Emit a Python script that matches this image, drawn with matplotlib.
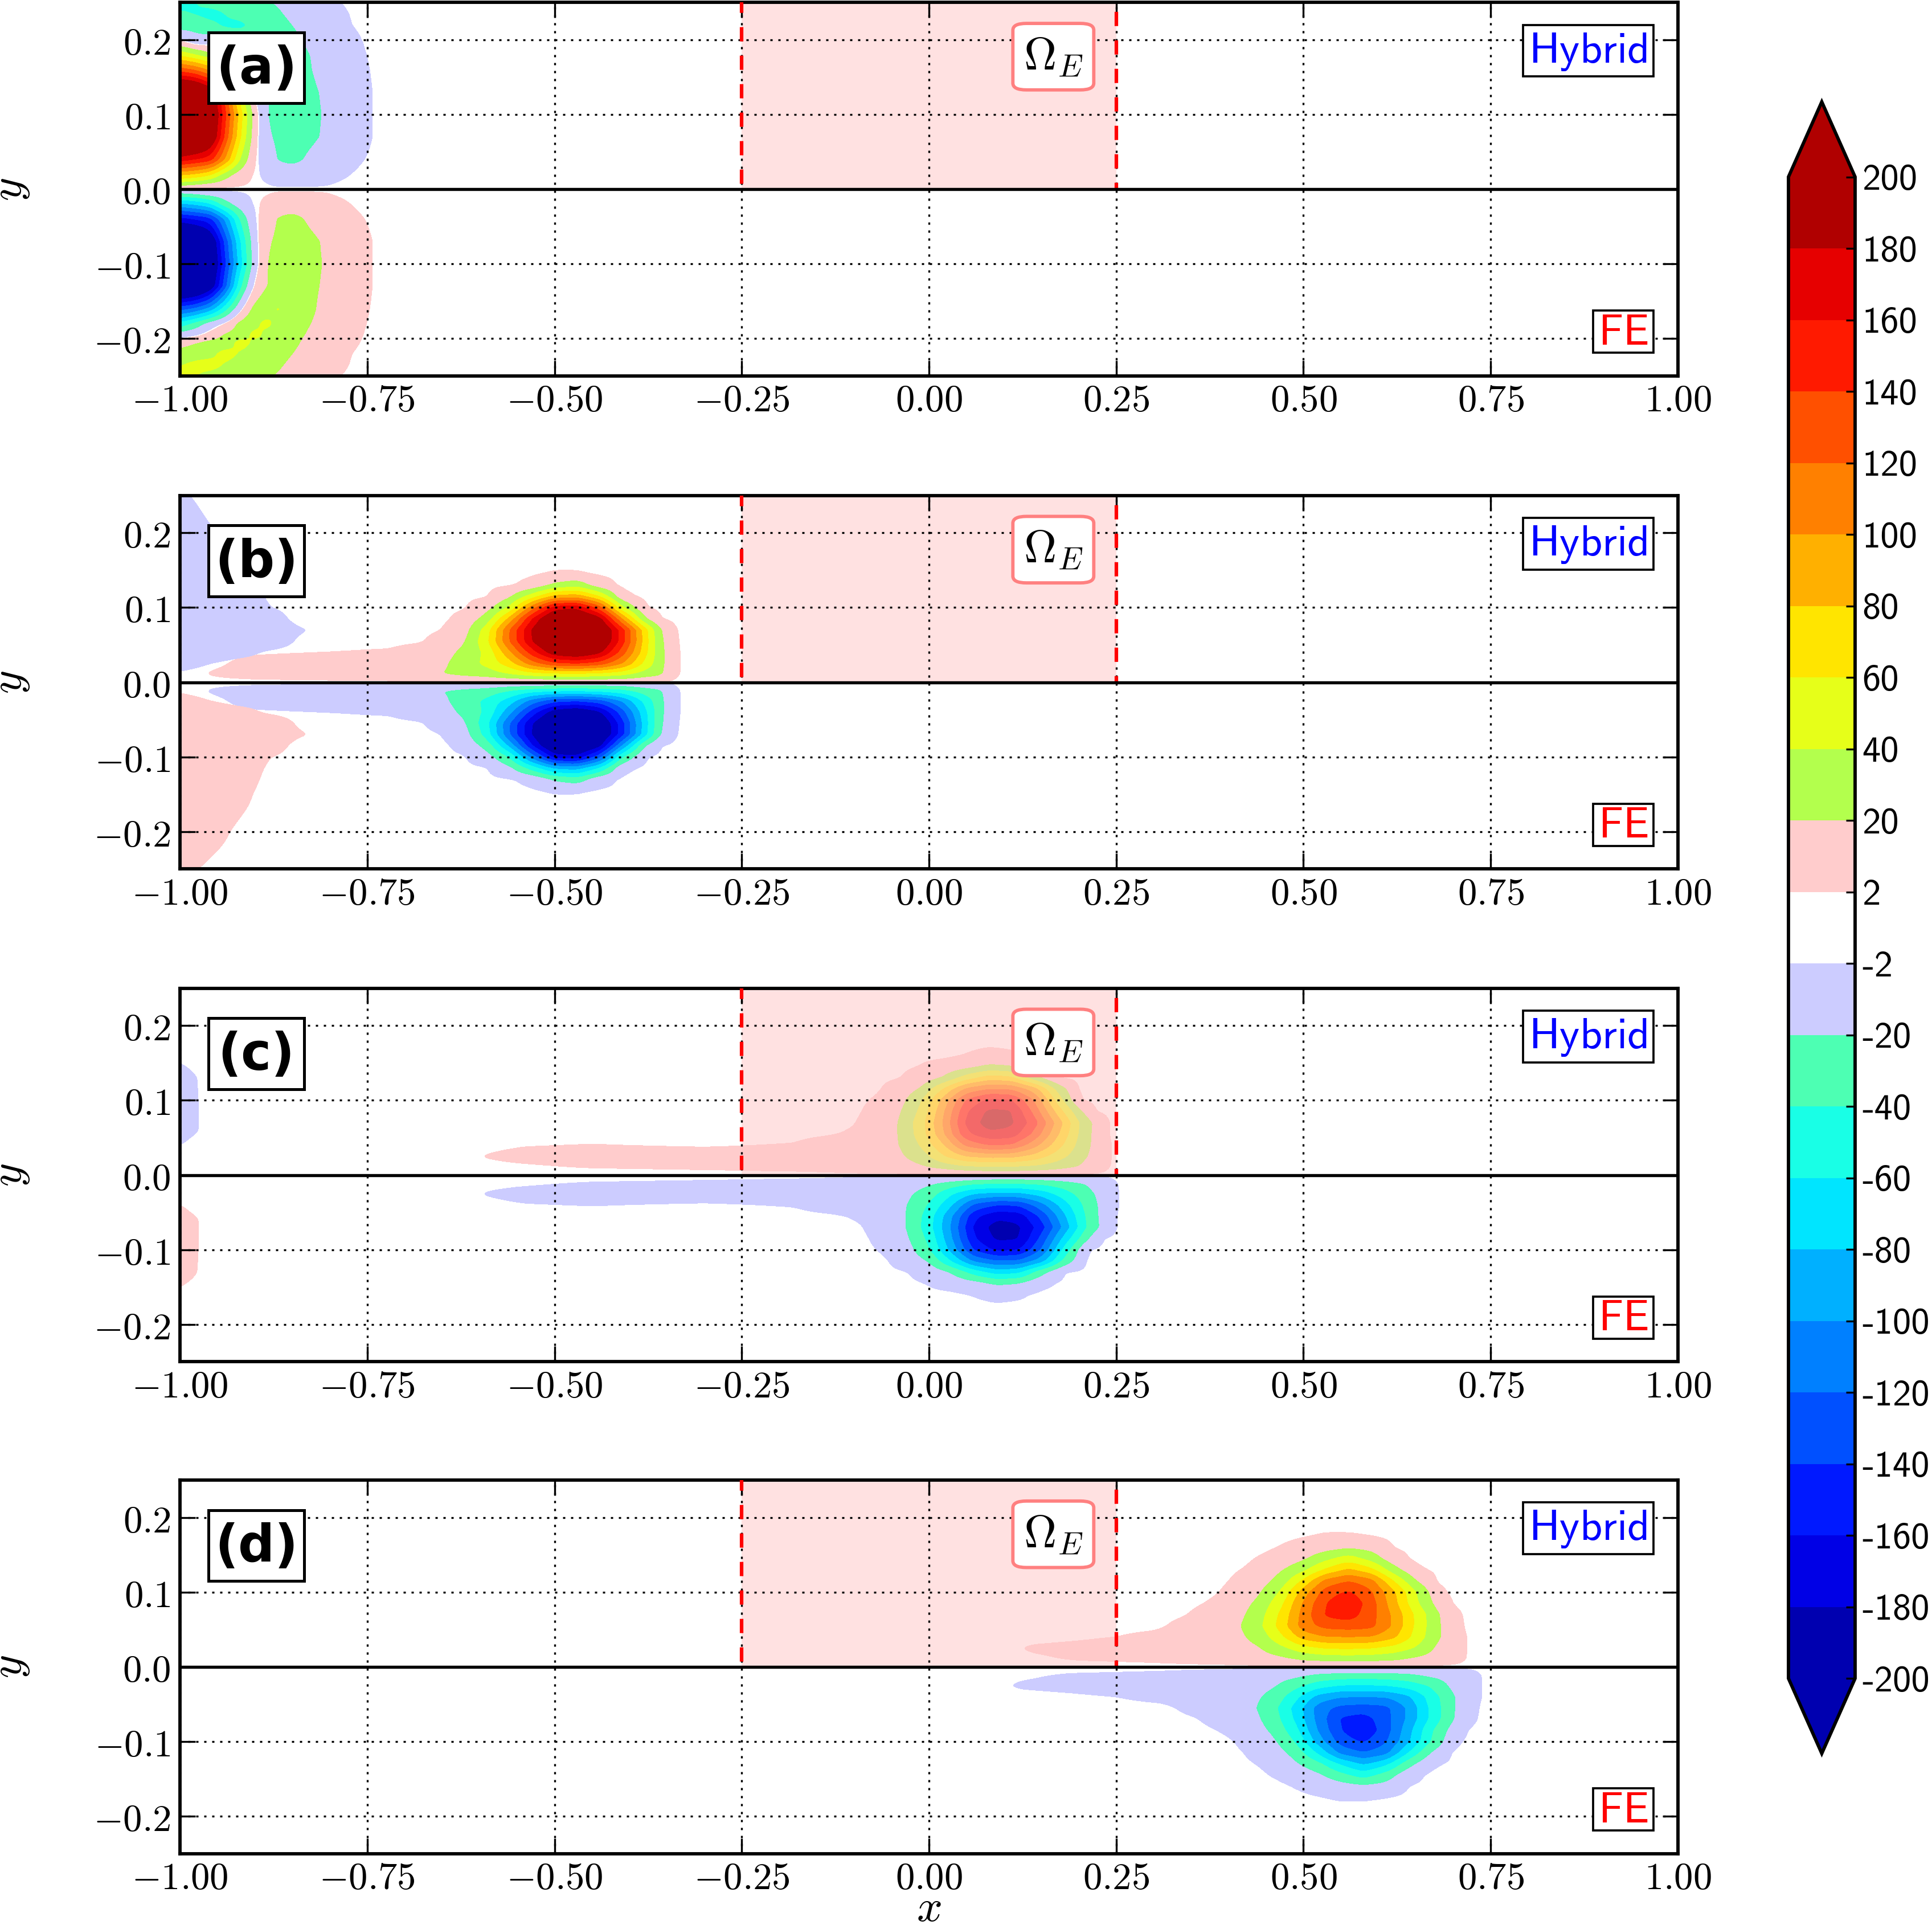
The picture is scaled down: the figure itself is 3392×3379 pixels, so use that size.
import numpy as np
import matplotlib
matplotlib.use("Agg")
import matplotlib.pyplot as plt
from matplotlib.cm import ScalarMappable
from matplotlib.colors import BoundaryNorm, ListedColormap
from matplotlib.patches import FancyBboxPatch, Rectangle

plt.rcParams['mathtext.fontset'] = 'cm'

levels = [-200, -180, -160, -140, -120, -100, -80, -60, -40, -20, -2, 2,
          20, 40, 60, 80, 100, 120, 140, 160, 180, 200]
band_colors = ['#0000b0', '#0000e6', '#0019ff', '#0050ff', '#0080ff', '#00b0ff', '#00e5ff',
               '#19ffe6', '#4dffb3', '#ccccff', '#ffffff', '#ffcccc', '#b3ff4d', '#e6ff19',
               '#ffe500', '#ffb000', '#ff8000', '#ff5000', '#ff1a00', '#e60000', '#b00000']

x_ticks = [-1.0, -0.75, -0.5, -0.25, 0.0, 0.25, 0.5, 0.75, 1.0]
y_ticks = [-0.2, -0.1, 0.0, 0.1, 0.2]
panel_names = ['(a)', '(b)', '(c)', '(d)']

# panel (a), field
a_x = [-1, -.98, -.96, -.94, -.92, -.90, -.885, -.87, -.85, -.83, -.81, -.79, -.77, -.75, -.73]
a_y = [0, .005, .02, .04, .07, .10, .13, .16, .18, .195, .205, .22, .235, .25]
a_hybrid = [
    [0, 0, 0, 0, 0, 0, 0, 0, 0, 0, 0, 0, 0, 0, 0],
    [20, 15, 8, 4, 2.5, 0, -1, -3, -3, -3, -2.5, -1, 0, 0, 0],
    [85, 78, 65, 30, 10, .5, -5, -8, -10, -9, -7, -4, -1.7, 0, 0],
    [170, 160, 150, 98, 38, 1, -9, -21.5, -26, -18, -12, -8, -4, -1.5, 0],
    [255, 245, 215, 135, 62, 6, -17, -23, -28, -25, -19, -12, -7, -3, 0],
    [270, 260, 225, 145, 70, 8, -20, -27, -29, -25, -20, -13, -7, -3, 0],
    [250, 238, 205, 130, 45, -6, -18, -25, -27, -24, -19, -12, -7, -3, 0],
    [130, 118, 95, 60, 5, -10, -24, -26, -26, -22, -16, -10, -6, -2.3, 0],
    [55, 40, 25, -3, -12, -18, -26, -26, -25, -21, -16, -10, -5, -1.7, 0],
    [10, -4, -4, -15, -22, -24, -28, -26, -24, -19, -14, -9, -4.5, -1, 0],
    [-10, -18, -18, -25, -30, -33, -30, -27, -23, -17, -12, -8, -3.5, -.5, 0],
    [-28, -26, -35, -44, -46, -32, -30, -25, -20, -15, -11, -6, -1.7, 0, 0],
    [-38, -41, -48, -40, -32, -28, -26, -22, -17, -13, -9, -5, -1, 0, 0],
    [-45, -41, -33, -30, -24, -22, -21, -19, -15, -11, -7, -2.5, 0, 0, 0],
]
a_fe = [
    [0, 0, 0, 0, 0, 0, 0, 0, 0, 0, 0, 0, 0, 0, 0],
    [-20, -15, -8, -4, -2.5, 0, 1, 3, 3, 3, 2.5, 1, 0, 0, 0],
    [-85, -78, -65, -30, -10, -.5, 5, 8, 10, 9, 7, 4, 1.7, 0, 0],
    [-170, -160, -150, -98, -38, -1, 9, 21.5, 26, 18, 12, 8, 4, 1.5, 0],
    [-255, -245, -215, -135, -62, -6, 17, 23, 28, 25, 19, 12, 7, 3, 0],
    [-270, -260, -225, -145, -70, -8, 20, 27, 29, 25, 20, 13, 7, 3, 0],
    [-250, -238, -205, -130, -45, 6, 20.5, 24, 27, 24, 19, 12, 7, 3, 0],
    [-130, -118, -95, -50, -5, 28, 30, 44, 30, 24, 17, 10, 6, 2.3, 0],
    [-55, -35, -12, 2, 25, 35, 46, 34, 27, 21, 16, 10, 5, 1.7, 0],
    [-10, -4, 8, 22, 28, 47, 35, 30, 24, 19, 14, 9, 4.5, 1, 0],
    [10, 18, 24, 26, 48, 36, 31, 28, 23, 17, 12, 8, 3.5, .5, 0],
    [28, 32, 33, 48, 38, 32, 29, 25, 20, 15, 11, 6, 1.7, 0, 0],
    [39, 44, 48, 38, 32, 26, 25, 22, 17, 13, 9, 5, 1, 0, 0],
    [43, 41, 33, 30, 25, 21, 21, 19, 15, 11, 7, 2.5, 0, 0, 0],
]

# panel (b)
b_x = [-.98, -.96, -.90, -.80, -.72, -.68, -.65, -.62, -.59, -.56, -.53, -.50, -.47, -.44, -.41, -.38, -.36, -.34, -.32]
b_y = [0, .004, .012, .025, .04, .055, .07, .085, .10, .115, .13, .145, .16]
b_vortex = [
    [0, 0, 0, 0, 0, 0, 0, 0, 0, 0, 0, 0, 0, 0, 0, 0, 0, 0, 0],
    [0, 1, 2, 3, 4, 5, 8, 10, 12, 15, 18, 20, 20, 20, 18, 12, 10, 1.5, 0],
    [0, 2.5, 6, 8, 10, 13, 20, 26, 30, 42, 55, 60, 62, 58, 50, 32, 25, 3, 0],
    [0, 0, 5, 8, 10, 12, 16, 30, 45, 70, 110, 135, 140, 130, 100, 55, 28, 3, 0],
    [0, 0, 1, 2, 3, 7, 12, 25, 45, 95, 150, 195, 205, 185, 130, 68, 28, 3, 0],
    [0, 0, 0, 0, 0, 1, 6, 18, 55, 120, 180, 222, 230, 212, 150, 72, 26, 2.5, 0],
    [0, 0, 0, 0, 0, 0, 2, 12, 50, 120, 183, 225, 235, 215, 150, 70, 22, 2, 0],
    [0, 0, 0, 0, 0, 0, 0, 6, 28, 85, 160, 215, 220, 190, 100, 22, 2, 0, 0],
    [0, 0, 0, 0, 0, 0, 0, 1, 12, 42, 110, 170, 175, 130, 42, 2.5, 0, 0, 0],
    [0, 0, 0, 0, 0, 0, 0, 0, 1, 16, 50, 85, 90, 60, 5, 0, 0, 0, 0],
    [0, 0, 0, 0, 0, 0, 0, 0, 0, 1, 5, 24, 32, 8, 0, 0, 0, 0, 0],
    [0, 0, 0, 0, 0, 0, 0, 0, 0, 0, 1, 3, 3, 1, 0, 0, 0, 0, 0],
    [0, 0, 0, 0, 0, 0, 0, 0, 0, 0, 0, 0, 0, 0, 0, 0, 0, 0, 0],
]
b_wall_x = [-1, -.96, -.92, -.88, -.84, -.80]
b_wall_y = [.005, .015, .025, .04, .055, .07, .085, .10, .12, .15, .20, .25]
b_wall_hybrid = [
    [0, 0, 0, 0, 0, 0],
    [-2.1, 0, 0, 0, 0, 0],
    [-5, -2, 0, 0, 0, 0],
    [-8, -6, -4, -1, 0, 0],
    [-8, -7, -6, -6, -1, 0],
    [-8, -7, -7, -6, -2.6, 0],
    [-8, -7, -7, -5, 0, 0],
    [-8, -7, -5, -2.1, 0, 0],
    [-8, -7, -5, -1, 0, 0],
    [-8, -6, -3, 0, 0, 0],
    [-6, -2.5, 0, 0, 0, 0],
    [-3, 0, 0, 0, 0, 0],
]
b_wall_fe = [
    [0, 0, 0, 0, 0, 0],
    [2.1, 0, 0, 0, 0, 0],
    [5, 2, 0, 0, 0, 0],
    [8, 6, 4, 1, 0, 0],
    [8, 7, 6, 6, 1, 0],
    [8, 7, 7, 6, 2.6, 0],
    [8, 7, 7, 5, 0, 0],
    [8, 7, 5, 2.1, 0, 0],
    [8, 7, 5, 1, 0, 0],
    [9, 7, 3.5, 0, 0, 0],
    [9, 4, 1, 0, 0, 0],
    [3.5, 1, 0, 0, 0, 0],
]

# panel (c)
c_x = [-.62, -.59, -.54, -.45, -.30, -.18, -.14, -.10, -.07, -.04, -.01, .02, .05, .08, .11, .14, .17, .20, .22, .24, .26]
c_x_fe = [-.62, -.59, -.54, -.45, -.30, -.18, -.13, -.09, -.06, -.03, .0, .03, .06, .09, .12, .15, .18, .21, .23, .25, .27]
c_y = [0, .004, .012, .025, .04, .055, .07, .085, .10, .115, .13, .145, .16, .175]
c_vortex = [
    [0, 0, 0, 0, 0, 0, 0, 0, 0, 0, 0, 0, 0, 0, 0, 0, 0, 0, 0, 0, 0],
    [0, 0, 0, 0, .8, 1.5, 2, 3, 3, 4, 5, 8, 12, 15, 15, 13, 10, 6, 4, 1, 0],
    [0, 0, 1, 3, 4, 5, 6, 7, 9, 11, 18, 30, 40, 42, 42, 38, 30, 20, 8, 2, 0],
    [0, 2.5, 5, 7, 7, 7, 8, 10, 12, 16, 30, 58, 80, 86, 85, 72, 50, 28, 14, 2, 0],
    [0, 0, 1.5, 2.2, 1, 2.5, 6, 9, 12, 19, 42, 78, 125, 140, 138, 108, 70, 34, 16, 2, 0],
    [0, 0, 0, 0, 0, 0, 1, 3, 8, 20, 50, 98, 155, 175, 172, 135, 85, 38, 16, 1, 0],
    [0, 0, 0, 0, 0, 0, 0, 1.5, 7, 20, 52, 103, 165, 190, 184, 150, 95, 40, 17, 1, 0],
    [0, 0, 0, 0, 0, 0, 0, .5, 5, 17, 45, 98, 158, 184, 182, 135, 75, 25, 2, 0, 0],
    [0, 0, 0, 0, 0, 0, 0, 0, 3, 12, 38, 88, 143, 165, 162, 120, 55, 2.5, 0, 0, 0],
    [0, 0, 0, 0, 0, 0, 0, 0, .5, 8, 22, 62, 105, 120, 118, 90, 35, 0, 0, 0, 0],
    [0, 0, 0, 0, 0, 0, 0, 0, 0, 1.5, 8, 22, 50, 70, 65, 28, 1.5, 0, 0, 0, 0],
    [0, 0, 0, 0, 0, 0, 0, 0, 0, 0, 2.5, 7, 14, 24, 21, 5, 0, 0, 0, 0, 0],
    [0, 0, 0, 0, 0, 0, 0, 0, 0, 0, 0, 0, 2.5, 5, 3.5, 0, 0, 0, 0, 0, 0],
    [0, 0, 0, 0, 0, 0, 0, 0, 0, 0, 0, 0, 0, 1, .5, 0, 0, 0, 0, 0, 0],
]
c_wall_x = [-1, -.985, -.97]
c_wall_y = [.03, .045, .06, .10, .13, .15, .17]
c_wall = [
    [0, 0, 0],
    [-3, -1, 0],
    [-5, -3.5, -1],
    [-5, -3.5, -1],
    [-4, -3, -1],
    [-2.1, -1, 0],
    [0, 0, 0],
]

# panel (d)
d_x = [.09, .11, .14, .20, .25, .30, .34, .38, .41, .44, .47, .50, .53, .56, .59, .62, .65, .68, .70, .72, .74]
d_x_fe = [.075, .095, .125, .19, .25, .31, .355, .40, .43, .46, .49, .52, .55, .58, .61, .64, .67, .70, .72, .74, .76]
d_y = [0, .004, .012, .025, .04, .055, .07, .085, .10, .115, .13, .145, .16, .175, .19]
d_vortex = [
    [0, 0, 0, 0, 0, 0, 0, 0, 0, 0, 0, 0, 0, 0, 0, 0, 0, 0, 0, 0, 0],
    [0, 0, 0, .6, 1, 1.5, 2, 2.5, 3, 4, 6, 9, 10, 10, 10, 9, 6, 4, 2.5, .5, 0],
    [0, 0, 1, 3, 3.5, 4, 5, 6, 8, 12, 17, 26, 30, 31, 30, 27, 18, 12, 7, 1, 0],
    [0, 1, 3, 4, 5.5, 7, 9, 11, 14, 18, 34, 52, 61, 62, 60, 52, 38, 15, 8, 1, 0],
    [0, 0, 0, 1, 2, 4, 6, 10, 15, 26, 55, 88, 99, 100, 99, 84, 52, 22, 8, 1, 0],
    [0, 0, 0, 0, 0, .5, 4, 9, 16, 34, 68, 110, 127, 130, 126, 97, 56, 22, 7, 0, 0],
    [0, 0, 0, 0, 0, 0, 1.5, 6, 13, 30, 64, 108, 143, 150, 128, 96, 56, 21, 5, 0, 0],
    [0, 0, 0, 0, 0, 0, 0, 3, 10, 24, 54, 103, 140, 157, 130, 88, 44, 12, 1, 0, 0],
    [0, 0, 0, 0, 0, 0, 0, 1, 5, 17, 42, 90, 130, 143, 123, 84, 40, 5, 0, 0, 0],
    [0, 0, 0, 0, 0, 0, 0, 0, 3, 10, 28, 64, 107, 120, 108, 60, 20, 0, 0, 0, 0],
    [0, 0, 0, 0, 0, 0, 0, 0, 1.5, 4, 18, 35, 63, 84, 66, 28, 4, 0, 0, 0, 0],
    [0, 0, 0, 0, 0, 0, 0, 0, 0, 2.5, 6, 17, 34, 50, 32, 7, 0, 0, 0, 0, 0],
    [0, 0, 0, 0, 0, 0, 0, 0, 0, 0, 2.5, 6, 12, 17, 13, 1.7, 0, 0, 0, 0, 0],
    [0, 0, 0, 0, 0, 0, 0, 0, 0, 0, 0, 1.5, 3, 3, 2, 0, 0, 0, 0, 0, 0],
    [0, 0, 0, 0, 0, 0, 0, 0, 0, 0, 0, 0, 0, 0, 0, 0, 0, 0, 0, 0, 0],
]

# white band stays see-through so the patches of one panel can overlap
draw_colors = [band_colors[0]] + band_colors + [band_colors[-1]]
draw_colors[11] = (1, 1, 1, 0)


def soften(a, cells):
    # light blur along the last axis, only so the contours come out round
    k = np.exp(-.5 * (np.arange(-12, 13) / cells) ** 2)
    k /= k.sum()
    padded = np.pad(a, ((0, 0), (12, 12)), mode='edge')
    return np.array([np.convolve(r, k, mode='valid') for r in padded])


def field(ax, x, y, z, sign=1, flip=False):
    xf = np.arange(x[0], x[-1] + .0007, .0015)
    yf = np.arange(y[0], y[-1] + .0004, .0008)
    zx = np.array([np.interp(xf, x, r) for r in np.array(z, dtype=float)])
    zf = np.array([np.interp(yf, y, c) for c in zx.T]).T
    zf = soften(zf, 3.5)
    zf = soften(zf.T, 2.2).T
    ax.contourf(xf, -yf if flip else yf, sign * zf, levels=levels, colors=draw_colors, extend='both', zorder=1)


fig = plt.figure(figsize=(3392 / 300, 3379 / 300), dpi=300)
bottoms = [.8047, .5486, .2926, .0371]
axes = [fig.add_axes([.0932, b, .7753, .194]) for b in bottoms]

field(axes[0], a_x, a_y, a_hybrid)
field(axes[0], a_x, a_y, a_fe, flip=True)
field(axes[1], b_x, b_y, b_vortex)
field(axes[1], b_x, b_y, b_vortex, sign=-1, flip=True)
field(axes[1], b_wall_x, b_wall_y, b_wall_hybrid)
field(axes[1], b_wall_x, b_wall_y, b_wall_fe, flip=True)
field(axes[2], c_x, c_y, c_vortex)
field(axes[2], c_x_fe, c_y, c_vortex, sign=-1, flip=True)
field(axes[2], c_wall_x, c_wall_y, c_wall)
field(axes[2], c_wall_x, c_wall_y, c_wall, sign=-1, flip=True)
field(axes[3], d_x, d_y, d_vortex)
field(axes[3], d_x_fe, d_y, d_vortex, sign=-1, flip=True)

for i, ax in enumerate(axes):
    ax.set_xlim(-1, 1)
    ax.set_ylim(-.25, .25)
    ax.set_xticks(x_ticks)
    ax.set_yticks(y_ticks)
    ax.set_xticklabels(['$%.2f$' % v for v in x_ticks], fontsize=16)
    ax.set_yticklabels(['$%.1f$' % v for v in y_ticks], fontsize=16, va='center_baseline')
    ax.tick_params(direction='in', length=6.5, width=.8, top=True, right=True)
    ax.tick_params(axis='x', pad=2.5)
    ax.tick_params(axis='y', pad=4)
    ax.set_axisbelow(False)
    ax.grid(True, color='k', lw=.8, linestyle=(0, (1.2, 3)))
    for s in ax.spines.values():
        s.set_linewidth(1.4)
    ax.set_ylabel('$y$', fontsize=19, va='baseline')
    ax.yaxis.set_label_coords(-.106, .5)

    ax.axvspan(-.25, .25, ymin=.5, ymax=1, facecolor=(1, 200 / 255, 200 / 255), edgecolor='none', alpha=.53, zorder=2)
    ax.plot([-.25, -.25], [0, .25], color='red', lw=1.5, linestyle=(6.5, (4, 4)), zorder=3)
    ax.plot([.25, .25], [0, .25], color='red', lw=1.5, linestyle=(2.2, (4, 4)), zorder=3)
    ax.axhline(0, color='k', lw=1.3, zorder=4)

    ax.add_patch(Rectangle((-.962, .115), .128, .095, fc='w', ec='k', lw=1.2, zorder=5))
    ax.text(-.898, .16, panel_names[i], fontsize=21.5, fontweight='bold', ha='center', va='center', zorder=6)
    ax.add_patch(FancyBboxPatch((.112, .133), .108, .089, boxstyle='round,pad=0,rounding_size=.018',
                                mutation_aspect=.5, fc='w', ec='#ff8080', lw=1.4, zorder=5))
    ax.text(.166, .177, r'$\Omega_E$', fontsize=19, ha='center', va='center', zorder=6)
    ax.add_patch(Rectangle((.793, .151), .174, .069, fc='w', ec='k', lw=.9, zorder=5))
    ax.text(.88, .185, r'$\mathsf{Hybrid}$', color='blue', fontsize=18.3, ha='center', va='center', zorder=6)
    ax.add_patch(Rectangle((.887, -.219), .08, .0565, fc='w', ec='k', lw=.9, zorder=5))
    ax.text(.927, -.192, r'$\mathsf{FE}$', color='red', fontsize=18.3, ha='center', va='center', zorder=6)

axes[3].set_xlabel('$x$', fontsize=19, va='baseline')
axes[3].xaxis.set_label_coords(.5, -.18)

cmap = ListedColormap(band_colors)
cmap.set_under(band_colors[0])
cmap.set_over(band_colors[-1])
sm = ScalarMappable(norm=BoundaryNorm(levels, cmap.N), cmap=cmap)
cax = fig.add_axes([.9257, .0891, .0345, .858])
cb = fig.colorbar(sm, cax=cax, extend='both', extendfrac=.05, ticks=levels, spacing='uniform', drawedges=False)
cb.ax.set_yticklabels([str(v) for v in levels], family=['cmss10', 'DejaVu Sans'], fontsize=15.5)
cb.ax.tick_params(direction='in', length=3.8, width=.8, pad=3)
cb.outline.set_linewidth(1.4)

plt.savefig('out.png', dpi=300)
plt.close()
